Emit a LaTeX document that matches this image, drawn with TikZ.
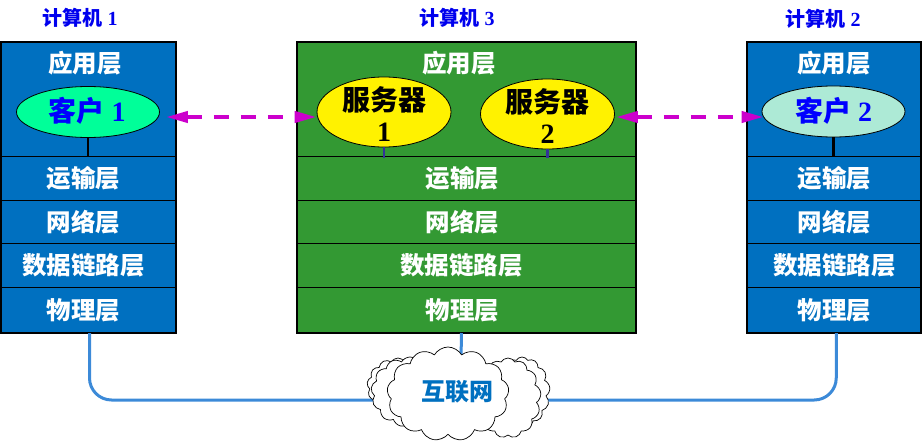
\documentclass[tikz,border=0pt]{standalone}
\usepackage{fontspec}
\setmainfont{Liberation Serif}
\newfontfamily\cjk{Noto Sans CJK SC}
\usetikzlibrary{shapes.geometric,shapes.symbols,arrows.meta,calc}
\definecolor{boxblue}{HTML}{0070C0}
\definecolor{boxgreen}{HTML}{339933}
\definecolor{cgreen}{HTML}{00FF99}
\definecolor{cmint}{HTML}{ADEAD6}
\definecolor{arrowmag}{HTML}{CC00CC}
\definecolor{linkblue}{HTML}{3C8AD8}
\definecolor{netblue}{HTML}{0070C0}
\definecolor{srvline}{HTML}{333399}
\definecolor{titleblue}{HTML}{0000EE}
\begin{document}
\begin{tikzpicture}[x=1pt,y=-1pt,
  layerbox/.style n args={2}{draw=black, line width=1pt, minimum width=#1, minimum height=#2,
    inner sep=0pt, anchor=north west, text=white, font=\cjk\bfseries\fontsize{24.5}{26}\selectfont},
  shiftleft/.style={execute at end node={\hspace*{#1}}},
  layertext/.style={text=white, inner sep=0pt, font=\cjk\bfseries\fontsize{24.5}{26}\selectfont},
  frame/.style={draw=black, line width=2.5pt},
  title/.style={text=titleblue, inner sep=0pt, font=\bfseries\fontsize{20}{22}\selectfont},
  client/.style={ellipse, draw=black, line width=0.8pt, minimum width=143pt, minimum height=51pt, inner sep=0pt},
  server/.style={ellipse, draw=black, line width=0.8pt, fill=yellow, minimum width=134pt, minimum height=70pt, inner sep=0pt},
  clienttext/.style={text=blue, inner sep=0pt, font=\bfseries\fontsize{28}{30}\selectfont},
  servertext/.style={text=black, inner sep=0pt, align=center, font=\bfseries\fontsize{28}{31}\selectfont},
  arr/.style={arrowmag, line width=4pt, dash pattern=on 15pt off 12pt, {Triangle[length=22pt,width=11pt]}-{Triangle[length=22pt,width=11pt]}},
  link/.style={linkblue, line width=3pt, rounded corners=22pt},
  cloudst/.style={cloud, cloud puffs=13, cloud puff arc=120, cloud ignores aspect, draw=black, fill=white, line width=0.7pt, inner sep=0pt},
]
\useasboundingbox (0,0) rectangle (922,444);

% ---------- computer 1 ----------
\node[title] (t1) at (80,18) {{\cjk 计算机} 1};
\node[layerbox={174pt}{114pt}, fill=boxblue] (l-app) at (1,42) {};
\node[layerbox={174pt}{44pt}, fill=boxblue, shiftleft=10pt] (l-tr) at (1,156) {运输层};
\node[layerbox={174pt}{43pt}, fill=boxblue, shiftleft=10pt] (l-nw) at (1,200) {网络层};
\node[layerbox={174pt}{44pt}, fill=boxblue, shiftleft=10pt] (l-dl) at (1,243) {数据链路层};
\node[layerbox={174pt}{45pt}, fill=boxblue, shiftleft=10pt] (l-ph) at (1,287) {物理层};
\node[layertext] (l-app-t) at (85,63) {应用层};
\draw[frame] (l-app.north west) rectangle (l-ph.south east);

% ---------- computer 3 ----------
\node[title] (t3) at (457,18) {{\cjk 计算机} 3};
\node[layerbox={338pt}{114pt}, fill=boxgreen] (m-app) at (297,42) {};
\node[layerbox={338pt}{44pt}, fill=boxgreen, shiftleft=8pt] (m-tr) at (297,156) {运输层};
\node[layerbox={338pt}{43pt}, fill=boxgreen, shiftleft=8pt] (m-nw) at (297,200) {网络层};
\node[layerbox={338pt}{44pt}, fill=boxgreen, shiftleft=10pt] (m-dl) at (297,243) {数据链路层};
\node[layerbox={338pt}{45pt}, fill=boxgreen, shiftleft=8pt] (m-ph) at (297,287) {物理层};
\node[layertext] (m-app-t) at (459,63) {应用层};
\draw[frame] (m-app.north west) rectangle (m-ph.south east);

% ---------- computer 2 ----------
\node[title] (t2) at (823,19) {{\cjk 计算机} 2};
\node[layerbox={173.5pt}{114pt}, fill=boxblue] (r-app) at (747,42) {};
\node[layerbox={173.5pt}{44pt}, fill=boxblue] (r-tr) at (747,156) {运输层};
\node[layerbox={173.5pt}{43pt}, fill=boxblue] (r-nw) at (747,200) {网络层};
\node[layerbox={173.5pt}{44pt}, fill=boxblue] (r-dl) at (747,243) {数据链路层};
\node[layerbox={173.5pt}{45pt}, fill=boxblue] (r-ph) at (747,287) {物理层};
\node[layertext] (r-app-t) at (834,63) {应用层};
\draw[frame] (r-app.north west) rectangle (r-ph.south east);

% ---------- processes ----------
\node[client, fill=cgreen] (c1) at (88,112) {};
\node[clienttext] (c1-t) at (87,111) {{\cjk 客户} 1};
\node[server] (s1) at (384,112) {};
\node[servertext] (s1-t) at (384,114) {{\cjk 服务器}\\1};
\node[server] (s2) at (547.5,114) {};
\node[servertext] (s2-t) at (547.5,116) {{\cjk 服务器}\\2};
\node[client, fill=cmint] (c2) at (833.5,111.5) {};
\node[clienttext] (c2-t) at (833.5,111) {{\cjk 客户} 2};

\draw[black, line width=2.5pt] (c1.south) -- (c1.south |- l-tr.north);
\draw[black, line width=2.5pt] (c2.south) -- (c2.south |- r-tr.north);
\draw[srvline, line width=2.5pt] (s1.south) -- ([yshift=-2pt]s1.south |- m-tr.north);
\draw[srvline, line width=2.5pt] (s2.south) -- ([yshift=-2pt]s2.south |- m-tr.north);

\draw[arr] ([xshift=6pt,yshift=-5pt]c1.east) -- ([yshift=-5pt]s1.west);
\draw[arr] ([xshift=1pt,yshift=-3pt]s2.east) -- ([xshift=2pt,yshift=-5.5pt]c2.west);

% ---------- internet ----------
\coordinate (netL) at (380,400);
\coordinate (netR) at (540,400);
\coordinate (netT) at (461,360);
\draw[link] ([xshift=1pt]l-ph.south) |- (netL);
\draw[link] ([xshift=2pt]r-ph.south) |- (netR);
\draw[linkblue, line width=3pt] ([xshift=-5pt]m-ph.south) -- (netT);

\node[cloudst, minimum width=62pt, minimum height=56pt] (netbl2) at (398,386) {};
\node[cloudst, minimum width=78pt, minimum height=70pt] (netbl) at (410,392) {};
\node[cloudst, minimum width=56pt, minimum height=70pt] (netbr2) at (522,392) {};
\node[cloudst, minimum width=66pt, minimum height=80pt] (netbr) at (508,398) {};
\node[cloudst, minimum width=122pt, minimum height=94pt] (net) at (448,394) {};
\node[text=netblue, inner sep=0pt, font=\cjk\bfseries\fontsize{24}{26}\selectfont] (net-t) at (457,392) {互联网};
\end{tikzpicture}
\end{document}
